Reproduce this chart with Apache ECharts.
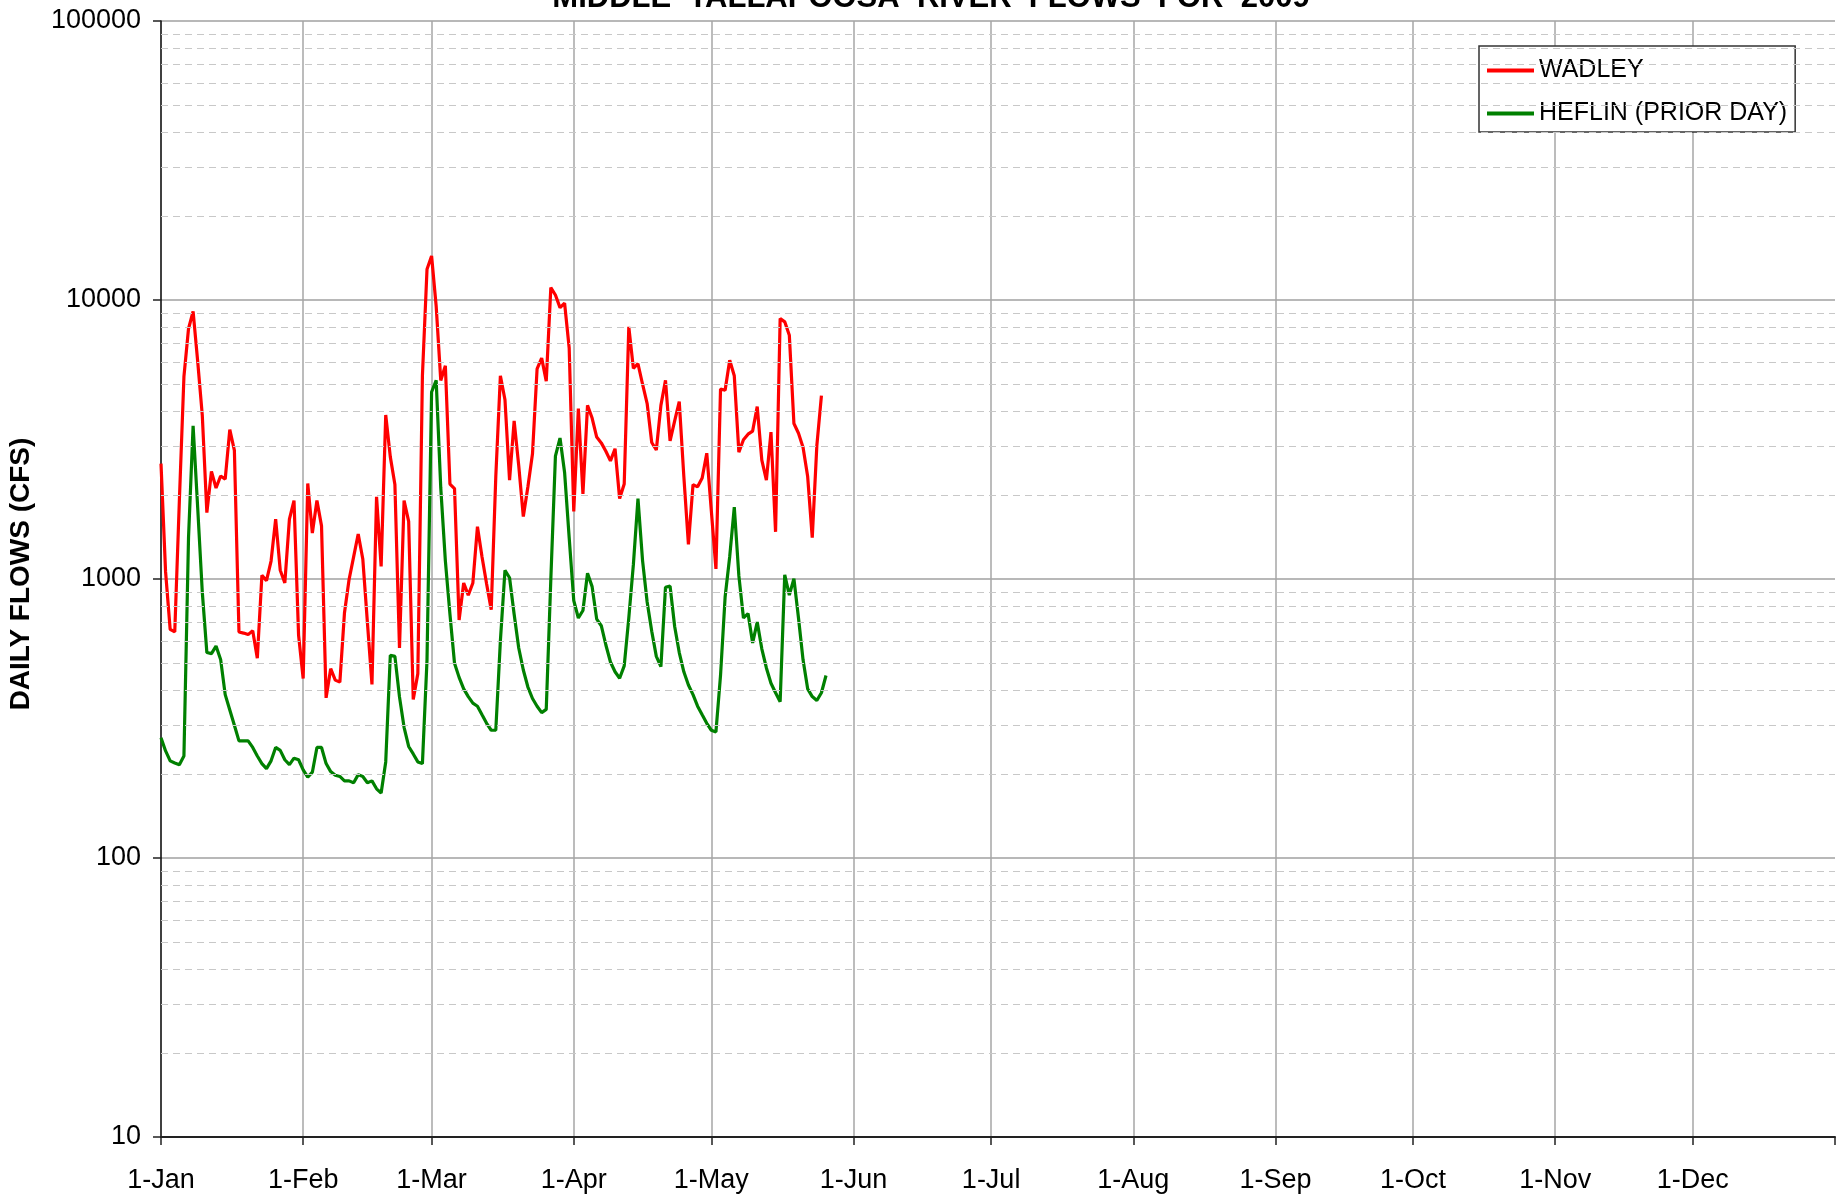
<!DOCTYPE html>
<html>
<head>
<meta charset="utf-8">
<title>Middle Tallapoosa River Flows</title>
<script src="https://cdn.jsdelivr.net/npm/echarts@6/dist/echarts.min.js"></script>
<style>
  html, body { margin: 0; padding: 0; background: #fff; }
  #chart { width: 1836px; height: 1197px; }
</style>
</head>
<body>
<div id="chart"></div>
<script>
// daily flows (cfs), day 0 = 1-Jan
var wadley = [
  2590, 1060, 660, 646, 1900, 5310, 7890, 9100, 6030, 3870,
  1730, 2430, 2120, 2340, 2280, 3430, 2890, 646, 640, 632,
  653, 520, 1030, 987, 1160, 1640, 1075, 968, 1640, 1910,
  628, 440, 2200, 1460, 1910, 1550, 375, 477, 434, 427,
  755, 994, 1200, 1450, 1180, 700, 419, 1970, 1110, 3870,
  2740, 2180, 566, 1910, 1610, 370, 458, 5350, 12880, 14380,
  9500, 5150, 5810, 2190, 2110, 713, 968, 875, 968, 1540,
  1200, 960, 776, 2330, 5350, 4390, 2260, 3690, 2550, 1675,
  2140, 2810, 5660, 6190, 5120, 11070, 10420, 9390, 9750, 6730,
  1747, 4085, 2020, 4190, 3775, 3225, 3075, 2870, 2650, 2930,
  1943, 2190, 8010, 5690, 5910, 4990, 4255, 3085, 2900, 4190,
  5150, 3125, 3690, 4325, 2330, 1330, 2180, 2140, 2300, 2825,
  1750, 1087, 4800, 4750, 6080, 5350, 2850, 3155, 3305, 3390,
  4150, 2665, 2260, 3360, 1476, 8590, 8350, 7480, 3610, 3330,
  2960, 2330, 1406, 3007, 4540
];
var heflin = [
  270, 242, 223, 219, 216, 232, 1406, 3540, 1800, 900,
  545, 540, 575, 515, 385, 339, 299, 263, 263, 263,
  249, 232, 218, 209, 223, 249, 243, 225, 216, 228,
  225, 207, 195, 203, 249, 249, 218, 204, 198, 196,
  189, 189, 186, 199, 196, 186, 189, 177, 171, 221,
  533, 528, 378, 294, 251, 236, 221, 218, 512, 4680,
  5150, 2120, 1164, 748, 499, 444, 404, 379, 359, 350,
  326, 304, 287, 287, 600, 1075, 1010, 748, 566, 472,
  410, 373, 350, 332, 341, 1000, 2755, 3200, 2410, 1406,
  836, 725, 771, 1049, 939, 718, 680, 580, 504, 465,
  441, 488, 725, 1128, 1943, 1164, 827, 650, 528, 485,
  934, 943, 676, 545, 465, 417, 385, 350, 326, 304,
  287, 283, 451, 862, 1202, 1811, 1026, 725, 752, 590,
  701, 562, 480, 423, 391, 363, 1035, 875, 1003, 725,
  512, 404, 379, 367, 391, 451
];

// x axis: one category per day, 1-Jan to 1-Jan of next year
var days = [];
for (var i = 0; i <= 365; i++) days.push(String(i));
var monthStarts = [0, 31, 59, 90, 120, 151, 181, 212, 243, 273, 304, 334, 365];
var monthLabels = ['1-Jan', '1-Feb', '1-Mar', '1-Apr', '1-May', '1-Jun',
                   '1-Jul', '1-Aug', '1-Sep', '1-Oct', '1-Nov', '1-Dec', ''];

// dashed minor grid lines at 2..9 of each decade
var minorGrid = [];
[10, 100, 1000, 10000].forEach(function (dec) {
  for (var k = 2; k <= 9; k++) minorGrid.push(k * dec);
});

var FONT = "'Liberation Sans', Arial, sans-serif";

var chart = echarts.init(document.getElementById('chart'));

var option = {
  animation: false,
  backgroundColor: '#fff',
  textStyle: { fontFamily: FONT },
  grid: { left: 161, right: 1, top: 21, bottom: 60, containLabel: false },
  graphic: [
    {
      // title is cut off by the top edge in the original
      type: 'text', x: 931, y: 14, z: 0,
      style: {
        text: 'MIDDLE  TALLAPOOSA  RIVER  FLOWS  FOR  2009',
        font: 'bold 31px ' + FONT, fill: '#000',
        textAlign: 'center', textVerticalAlign: 'bottom'
      }
    },
    {
      type: 'text', x: 21, y: 574, rotation: Math.PI / 2,
      style: {
        text: 'DAILY FLOWS (CFS)',
        font: 'bold 28px ' + FONT, fill: '#000',
        textAlign: 'center', textVerticalAlign: 'middle'
      }
    }
  ],
  legend: {
    data: ['WADLEY', 'HEFLIN (PRIOR DAY)'],
    orient: 'vertical',
    left: 1479, top: 46,
    padding: [12, 8, 6, 8],
    itemGap: 18,
    itemWidth: 47, itemHeight: 4,
    icon: 'rect',
    backgroundColor: '#fff',
    borderColor: '#333', borderWidth: 1.5,
    textStyle: { fontSize: 25, color: '#000', fontFamily: FONT }
  },
  xAxis: {
    type: 'category',
    data: days,
    boundaryGap: false,
    axisLine: { lineStyle: { color: '#222', width: 2 } },
    axisTick: {
      length: 8,
      interval: function (idx) { return monthStarts.indexOf(idx) >= 0; },
      lineStyle: { color: '#222', width: 1.5 }
    },
    axisLabel: {
      interval: function (idx) { return monthStarts.indexOf(idx) >= 0 && idx < 365; },
      formatter: function (v, idx) { return monthLabels[monthStarts.indexOf(Number(v))]; },
      fontSize: 27, color: '#000', margin: 30, fontFamily: FONT
    },
    splitLine: {
      show: true,
      interval: function (idx) { return monthStarts.indexOf(idx) > 0 && idx < 365; },
      lineStyle: { color: '#a6a6a6', width: 1.5 }
    }
  },
  yAxis: {
    type: 'log',
    logBase: 10,
    min: 10, max: 100000,
    axisLine: { show: true, lineStyle: { color: '#000', width: 1.5 } },
    axisTick: { show: true, length: 8, lineStyle: { color: '#222', width: 1.5 } },
    axisLabel: {
      fontSize: 27, color: '#000', margin: 20, fontFamily: FONT,
      formatter: function (v) { return String(Math.round(v)); }
    },
    splitLine: { show: true, lineStyle: { color: '#a0a0a0', width: 1.5 } }
  },
  series: [
    {
      name: 'minor',
      type: 'line',
      data: [],
      z: 1,
      silent: true,
      markLine: {
        silent: true,
        symbol: ['none', 'none'],
        label: { show: false },
        lineStyle: { type: [7, 5], color: '#c8c8c8', width: 1 },
        data: minorGrid.map(function (v) { return { yAxis: v }; })
      }
    },
    {
      name: 'WADLEY',
      type: 'line',
      data: wadley,
      symbol: 'none',
      z: 3,
      lineStyle: { color: '#ff0000', width: 3.2 },
      itemStyle: { color: '#ff0000' }
    },
    {
      name: 'HEFLIN (PRIOR DAY)',
      type: 'line',
      data: heflin,
      symbol: 'none',
      z: 4,
      lineStyle: { color: '#008000', width: 3.2 },
      itemStyle: { color: '#008000' }
    }
  ]
};

chart.setOption(option);
</script>
</body>
</html>
